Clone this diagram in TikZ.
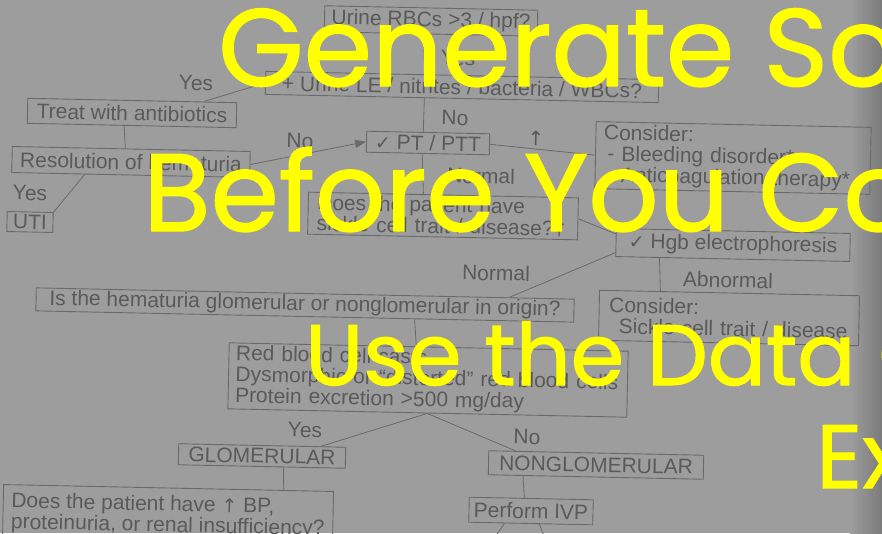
\documentclass[tikz,border=0pt]{standalone}
\usepackage{fontspec}
\setmainfont{Liberation Sans}
\newfontfamily\symfont{DejaVu Sans}
\newfontfamily\yfont{Poppins}[FakeBold=1.2]
\usetikzlibrary{calc,arrows.meta}
\definecolor{bg}{HTML}{9D9D9D}
\definecolor{ink}{HTML}{5A5A5A}
\definecolor{ln}{HTML}{6A6A6A}
\definecolor{yel}{HTML}{FFFF00}
\tikzset{
  box/.style={draw=ln, line width=0.9pt, text=ink, inner sep=0pt, rotate=-1.2,
    font=\fontsize{21}{21}\selectfont},
  mbox/.style={box, align=left},
  lbl/.style={text=ink, inner sep=0pt, rotate=-1.2, font=\fontsize{21}{21}\selectfont},
  conn/.style={draw=ln, line width=0.8pt},
  ytext/.style={text=yel, inner sep=0pt, anchor=base west}
}
\begin{document}
\begin{tikzpicture}[x=1pt,y=-1pt]
\useasboundingbox (0,0) rectangle (882,533);
\clip (0,0) rectangle (882,533);
\fill[bg] (0,0) rectangle (882,533);
\shade[left color=bg, right color=bg!78!black] (850,0) rectangle (882,533);

% boxes
\node[box, minimum width=213pt, minimum height=26pt] (A) at (431,21) {Urine RBCs >3 / hpf?};
\node[box, minimum width=393pt, minimum height=23pt] (B) at (462,87) {+ Urine LE / nitrites / bacteria / WBCs?};
\node[box, minimum width=209pt, minimum height=25pt] (C) at (132,113) {Treat with antibiotics};
\node[box, minimum width=238pt, minimum height=26pt] (D) at (131,162) {Resolution of hematuria};
\node[box, minimum width=46pt, minimum height=20pt] (E) at (30,222) {UTI};
\node[box, minimum width=123pt, minimum height=21pt] (F) at (428,143) {{\symfont\fontsize{19}{19}\selectfont ✓} PT / PTT};
\node[mbox, inner xsep=8pt, text width=259pt, minimum height=67pt] (G) at (733,158) {Consider:\\\hspace*{4pt}- Bleeding disorder*\\\hspace*{4pt}- Anticoagulation therapy*};
\node[mbox, inner xsep=9pt, text width=252pt, minimum height=42pt] (H) at (443,216) {Does the patient have\\sickle cell trait / disease?†};
\node[box, minimum width=234pt, minimum height=28pt] (I) at (733,245) {{\symfont\fontsize{19}{19}\selectfont ✓} Hgb electrophoresis};
\node[mbox, inner xsep=10pt, text width=240pt, minimum height=50pt] (K) at (729,318) {Consider:\\\hspace*{10pt}Sickle cell trait / disease};
\node[box, minimum width=538pt, minimum height=23pt] (J) at (305,305) {Is the hematuria glomerular or nonglomerular in origin?};
\node[mbox, inner xsep=7pt, text width=385pt, minimum height=66pt] (L) at (428,380) {Red blood cell casts\\Dysmorphic or ``distorted'' red blood cells\\Protein excretion >500 mg/day};
\node[box, minimum width=167pt, minimum height=21pt] (M) at (262,456) {GLOMERULAR};
\node[box, minimum width=215pt, minimum height=24pt] (N) at (596,465) {NONGLOMERULAR};
\node[mbox, minimum width=330pt, minimum height=56pt] (O) at (168,516) {Does the patient have {\symfont\fontsize{19}{19}\selectfont ↑} BP,\\proteinuria, or renal insufficiency?};
\node[box, minimum width=124pt, minimum height=25pt] (P) at (531,511) {Perform IVP};

% labels
\node[lbl] (l1) at (458,58) {Yes};
\node[lbl] (l2) at (196,83) {Yes};
\node[lbl] (l3) at (30,193) {Yes};
\node[lbl] (l4) at (300,141) {No};
\node[lbl] (l5) at (455,118) {No};
\node[lbl, font=\symfont\fontsize{20}{20}\selectfont] (l6) at (536,138) {↑};
\node[lbl] (l7) at (481,176) {Normal};
\node[lbl] (l8) at (496,273) {Normal};
\node[lbl] (l9) at (728,280) {Abnormal};
\node[lbl] (l10) at (305,430) {Yes};
\node[lbl] (l11) at (527,437) {No};

% connectors
\draw[conn] ($(A.south west)!0.465!(A.south east)$) -- ($(B.north west)!0.405!(B.north east)$);
\draw[conn] (B.west) -- ($(C.north west)!0.84!(C.north east)$);
\draw[conn] ($(C.south west)!0.464!(C.south east)$) -- ($(D.north west)!0.475!(D.north east)$);
\draw[conn] ($(D.south west)!0.307!(D.south east)$) -- (E.north east);
\draw[conn, -{Triangle[length=11pt,width=8pt]}] (D.east) -- (F.west);
\draw[conn] ($(B.south west)!0.405!(B.south east)$) -- ($(F.north west)!0.46!(F.north east)$);
\draw[conn] (F.east) -- (G.west);
\draw[conn] ($(F.south west)!0.455!(F.south east)$) -- ($(H.north west)!0.426!(H.north east)$);
\draw[conn] (H.east) -- ($(I.north west)!0.2!(I.south west)$);
\draw[conn] ($(I.north west)!0.85!(I.south west)$) -- ($(J.north west)!0.879!(J.north east)$);
\draw[conn] ($(I.south west)!0.188!(I.south east)$) -- ($(K.north west)!0.235!(K.north east)$);
\draw[conn] ($(J.south west)!0.704!(J.south east)$) -- ($(L.north west)!0.469!(L.north east)$);
\draw[conn] (L.south) -- ($(M.north west)!0.85!(M.north east)$);
\draw[conn] (L.south) -- ($(N.north west)!0.126!(N.north east)$);
\draw[conn] ($(M.south west)!0.629!(M.south east)$) -- ($(O.north west)!0.848!(O.north east)$);
\draw[conn] ($(N.south west)!0.163!(N.south east)$) -- ($(P.north west)!0.444!(P.north east)$);
\coordinate (p1) at (486,550);
\coordinate (p2) at (549,550);
\draw[conn] ($(P.south west)!0.29!(P.south east)$) -- (p1);
\draw[conn] ($(P.south west)!0.57!(P.south east)$) -- (p2);

% overlay text
\node[ytext, font=\yfont\fontsize{110}{110}\selectfont] (y1) at (218,86) {Generate So};
\node[ytext, font=\yfont\fontsize{110}{110}\selectfont] (y2) at (143,231) {Before You Co};
\node[ytext, font=\yfont\fontsize{86}{86}\selectfont] (y3) at (305,385) {Use the Data G};
\node[ytext, font=\yfont\fontsize{90}{90}\selectfont] (y4) at (816,488) {Ex};
\end{tikzpicture}
\end{document}
